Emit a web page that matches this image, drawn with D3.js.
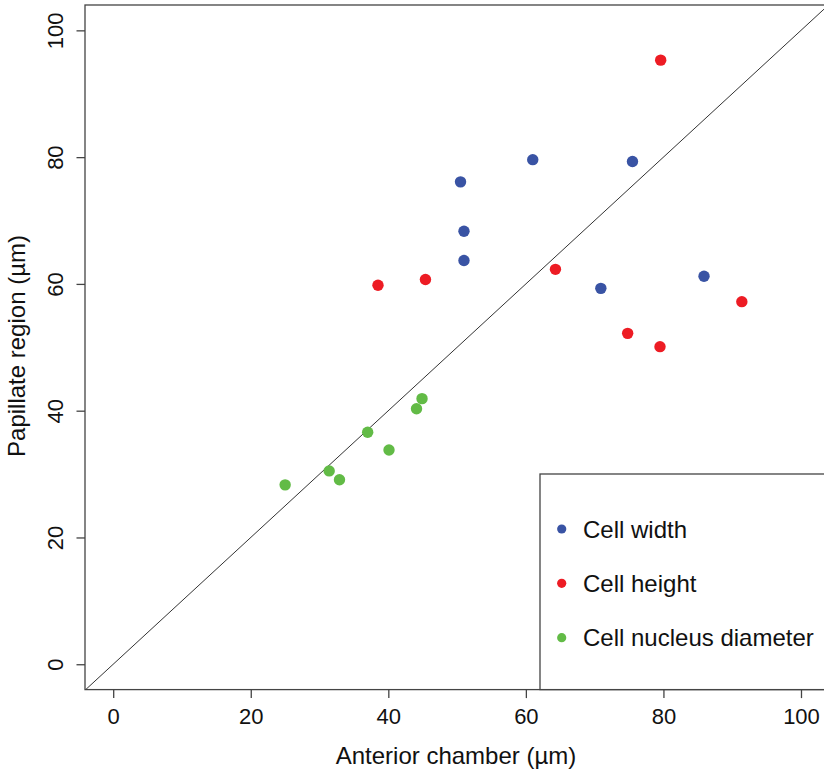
<!DOCTYPE html>
<html>
<head>
<meta charset="utf-8">
<script src="https://cdn.jsdelivr.net/npm/d3@7"></script>
<style>
  body { margin: 0; background: #fff; }
  svg { display: block; font-family: "Liberation Sans", Arial, sans-serif; }
</style>
</head>
<body>
<svg id="chart" width="824" height="771"></svg>
<script>
// Series values (anterior chamber, papillate region)
const widthX = [50.5, 61.0, 75.5, 51.0, 51.0, 70.9, 85.9];
const widthY = [76.1, 79.6, 79.3, 68.3, 63.7, 59.3, 61.2];
const heightX = [38.5, 45.4, 64.3, 74.8, 79.5, 91.4, 79.6];
const heightY = [59.8, 60.7, 62.3, 52.2, 50.1, 57.2, 95.3];
const nucleusX = [25.0, 31.4, 32.9, 37.0, 40.1, 44.1, 44.9];
const nucleusY = [28.3, 30.5, 29.1, 36.6, 33.8, 40.3, 41.9];

const seriesNames = ['Cell width', 'Cell height', 'Cell nucleus diameter'];
const seriesColors = ['#3953a4', '#ed1c24', '#62bb46'];
const tickValues = [0, 20, 40, 60, 80, 100];

const svg = d3.select('#chart');

// plot region, R style with 4% padding
const xScale = d3.scaleLinear().domain([-4.1, 104]).range([85, 828.5]);
const yScale = d3.scaleLinear().domain([-4, 104]).range([689.6, 5]);

svg.append('clipPath').attr('id', 'plotClip')
  .append('rect')
  .attr('x', 85).attr('y', 5)
  .attr('width', 824 - 85).attr('height', 689.6 - 5);

const plot = svg.append('g').attr('clip-path', 'url(#plotClip)');

// 1:1 line
plot.append('line')
  .attr('x1', xScale(-5)).attr('y1', yScale(-5))
  .attr('x2', xScale(110)).attr('y2', yScale(110))
  .attr('stroke', '#333').attr('stroke-width', 1);

// points
const series = [
  d3.zip(widthX, widthY),
  d3.zip(heightX, heightY),
  d3.zip(nucleusX, nucleusY)
];

series.forEach((pts, i) => {
  plot.selectAll('.p' + i)
    .data(pts)
    .enter().append('circle')
    .attr('class', 'p' + i)
    .attr('cx', d => xScale(d[0]))
    .attr('cy', d => yScale(d[1]))
    .attr('r', 5.7)
    .attr('fill', seriesColors[i]);
});

// frame
svg.append('rect')
  .attr('x', 85).attr('y', 5)
  .attr('width', 760).attr('height', 689.6 - 5)
  .attr('fill', 'none').attr('stroke', '#444').attr('stroke-width', 1.3);

// axes
const xAxis = d3.axisBottom(xScale).tickValues(tickValues).tickSize(8.5);
const yAxis = d3.axisLeft(yScale).tickValues(tickValues).tickSize(8.5);

const gx = svg.append('g')
  .attr('transform', 'translate(0,' + 689.6 + ')')
  .call(xAxis);
gx.select('.domain').remove();
gx.selectAll('line').attr('stroke', '#444').attr('stroke-width', 1.3);
gx.selectAll('text')
  .attr('font-size', 22).attr('fill', '#111')
  .attr('font-family', '"Liberation Sans", Arial, sans-serif')
  .attr('y', 34.8).attr('dy', null);

const gy = svg.append('g')
  .attr('transform', 'translate(85,0)')
  .call(yAxis);
gy.select('.domain').remove();
gy.selectAll('line').attr('stroke', '#444').attr('stroke-width', 1.3);
gy.selectAll('text')
  .attr('font-size', 22).attr('fill', '#111')
  .attr('font-family', '"Liberation Sans", Arial, sans-serif')
  .attr('x', null).attr('dy', null).attr('y', 0)
  .attr('text-anchor', 'middle')
  .attr('transform', 'translate(-22,0) rotate(-90)');

// axis titles
svg.append('text')
  .attr('x', 456).attr('y', 764)
  .attr('text-anchor', 'middle')
  .attr('font-size', 24).attr('fill', '#111')
  .text('Anterior chamber (µm)');

svg.append('text')
  .attr('transform', 'translate(25,346) rotate(-90)')
  .attr('text-anchor', 'middle')
  .attr('font-size', 24).attr('fill', '#111')
  .text('Papillate region (µm)');

// legend
const legend = svg.append('g');
legend.append('rect')
  .attr('x', 540).attr('y', 474)
  .attr('width', 400).attr('height', 689.6 - 474)
  .attr('fill', '#fff').attr('stroke', '#444').attr('stroke-width', 1.3);

const legendY = d3.scalePoint().domain(seriesNames).range([529, 637.7]);

seriesNames.forEach((name, i) => {
  legend.append('circle')
    .attr('cx', 561.7).attr('cy', legendY(name))
    .attr('r', 4.6).attr('fill', seriesColors[i]);
  legend.append('text')
    .attr('x', 583).attr('y', legendY(name) + 8.5)
    .attr('font-size', 24).attr('fill', '#111')
    .text(name);
});
</script>
</body>
</html>
